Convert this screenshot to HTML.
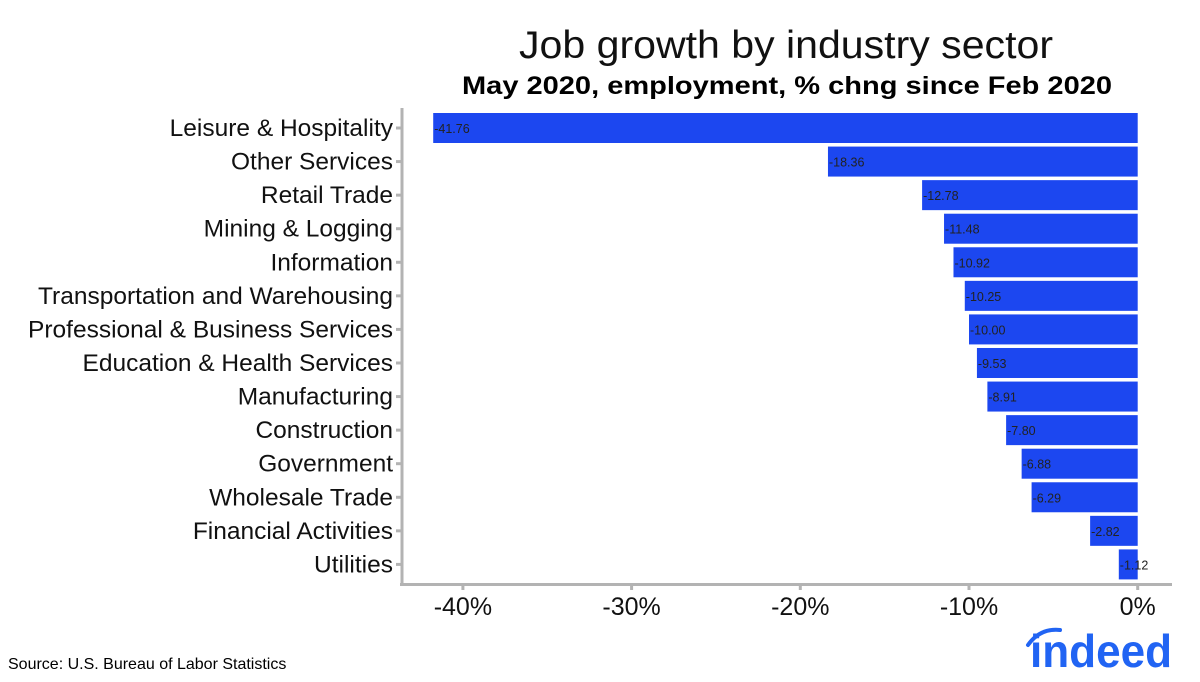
<!DOCTYPE html>
<html><head><meta charset="utf-8"><style>
body{margin:0;background:#fff;}
svg{display:block;font-family:"Liberation Sans",sans-serif;}
</style></head><body>
<svg id="chart" width="1200" height="682">
<text x="786" y="58" text-anchor="middle" font-size="39" fill="#111" textLength="534" lengthAdjust="spacingAndGlyphs">Job growth by industry sector</text>
<text x="787" y="94" text-anchor="middle" font-size="25" font-weight="bold" fill="#000" textLength="650" lengthAdjust="spacingAndGlyphs">May 2020, employment, % chng since Feb 2020</text>
<g id="plot"></g>
<text x="8" y="669" font-size="16" fill="#000">Source: U.S. Bureau of Labor Statistics</text>
<g>
<path d="M1028 645 Q1040 628 1060 630" stroke="#2164f3" stroke-width="4" fill="none" stroke-linecap="round"/>
<text x="1030" y="667" font-size="46" font-weight="bold" fill="#2164f3" textLength="142" lengthAdjust="spacingAndGlyphs">indeed</text>
</g>
</svg>
<script>
const categories=["Leisure & Hospitality","Other Services","Retail Trade","Mining & Logging","Information","Transportation and Warehousing","Professional & Business Services","Education & Health Services","Manufacturing","Construction","Government","Wholesale Trade","Financial Activities","Utilities"];
const values=[-41.76,-18.36,-12.78,-11.48,-10.92,-10.25,-10.00,-9.53,-8.91,-7.80,-6.88,-6.29,-2.82,-1.12];
const ticks=[-40,-30,-20,-10,0];
const tickLabels=["-40%","-30%","-20%","-10%","0%"];
const NS="http://www.w3.org/2000/svg";
const g=document.getElementById('plot');
const x=v=>1137.7+v*16.87;
const y=i=>128+i*33.57;
function mk(t,a){const e=document.createElementNS(NS,t);for(const k in a)e.setAttribute(k,a[k]);g.appendChild(e);return e;}
let ax=mk('line',{x1:402,y1:108,x2:402,y2:586,stroke:'#b3b3b3','stroke-width':3});


let xa=mk('line',{x1:400,y1:584.5,x2:1172,y2:584.5,stroke:'#b3b3b3','stroke-width':3});


categories.forEach((c,i)=>{
 const yc=y(i);
 mk('line',{x1:396,y1:yc,x2:402,y2:yc,stroke:'#b3b3b3','stroke-width':3});
 const l=mk('text',{x:393,y:yc+8,'text-anchor':'end','font-size':24.5,fill:'#111'});l.textContent=c;
 
 
 const b=mk('rect',{x:x(values[i]),y:yc-15,width:x(0)-x(values[i]),height:30,fill:'#1c47f0'});
 
 
 const v=mk('text',{x:x(values[i])+1,y:yc+5,'font-size':12.5,fill:'#222'});v.textContent=values[i].toFixed(2);
 
 
});
ticks.forEach((t,i)=>{
 mk('line',{x1:x(t),y1:584,x2:x(t),y2:590,stroke:'#b3b3b3','stroke-width':3});
 const l=mk('text',{x:x(t),y:615,'text-anchor':'middle','font-size':25,fill:'#111'});l.textContent=tickLabels[i];
 
 
});
</script>
</body></html>
